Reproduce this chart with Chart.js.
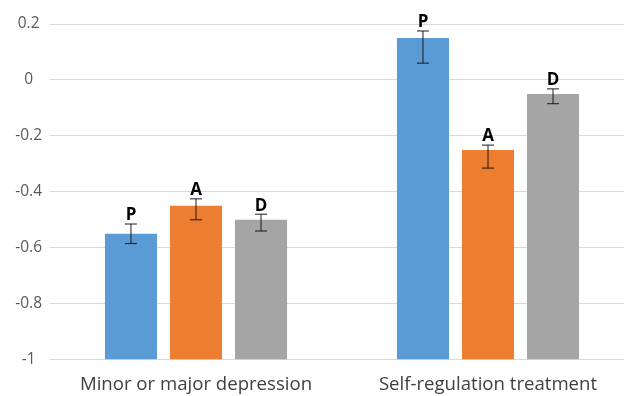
<!DOCTYPE html>
<html>
<head>
<meta charset="utf-8">
<script src="https://cdn.jsdelivr.net/npm/chart.js@4"></script>
<style>
  html, body { margin: 0; padding: 0; background: #fff; overflow: hidden; }
  .chart-container { width: 636px; height: 410px; }
</style>
</head>
<body>
<div class="chart-container">
  <canvas id="chart"></canvas>
</div>
<script>
// categories and series
const categories = ['Minor or major depression', 'Self-regulation treatment'];
const seriesNames = ['P', 'A', 'D'];
const colors = ['#5B9BD5', '#ED7D31', '#A5A5A5'];

const valuesP = [-0.55, 0.15];
const valuesA = [-0.45, -0.25];
const valuesD = [-0.50, -0.05];

// error bar ends (low, high)
const lowP = [-0.585, 0.06];
const highP = [-0.515, 0.175];
const lowA = [-0.50, -0.315];
const highA = [-0.425, -0.233];
const lowD = [-0.54, -0.085];
const highD = [-0.48, -0.032];

const yTicks = [0.2, 0, -0.2, -0.4, -0.6, -0.8, -1];

const values = [valuesP, valuesA, valuesD];
const lows = [lowP, lowA, lowD];
const highs = [highP, highA, highD];

const errorBars = {
  id: 'errorBars',
  afterDatasetsDraw(chart) {
    const ctx = chart.ctx;
    const y = chart.scales.y;
    chart.data.datasets.forEach((ds, i) => {
      const meta = chart.getDatasetMeta(i);
      meta.data.forEach((bar, j) => {
        const x = bar.x;
        const yTop = y.getPixelForValue(highs[i][j]);
        const yBot = y.getPixelForValue(lows[i][j]);
        ctx.save();
        ctx.strokeStyle = '#1a1a1a';
        ctx.lineWidth = 1;
        ctx.beginPath();
        ctx.moveTo(x, yTop); ctx.lineTo(x, yBot);
        ctx.moveTo(x - 6, yTop); ctx.lineTo(x + 6, yTop);
        ctx.moveTo(x - 6, yBot); ctx.lineTo(x + 6, yBot);
        ctx.stroke();
        // series letter above the error bar
        ctx.fillStyle = '#000';
        ctx.font = 'bold 17px "Open Sans", sans-serif';
        ctx.textAlign = 'center';
        ctx.textBaseline = 'bottom';
        ctx.fillText(seriesNames[i], x, yTop);
        ctx.restore();
      });
    });
  }
};

new Chart(document.getElementById('chart'), {
  type: 'bar',
  data: {
    labels: categories,
    datasets: seriesNames.map((name, i) => ({
      label: name,
      data: values[i],
      base: -1,
      backgroundColor: colors[i],
      borderWidth: 0,
      categoryPercentage: 0.668,
      barPercentage: 0.8,
    })),
  },
  options: {
    responsive: true,
    maintainAspectRatio: false,
    animation: false,
    layout: { padding: { top: 24, right: 2, left: 0, bottom: 0 } },
    plugins: {
      legend: { display: false },
      tooltip: { enabled: false },
    },
    scales: {
      x: {
        grid: { display: false, drawTicks: false },
        border: { display: false },
        ticks: {
          color: '#404040',
          font: { family: '"Open Sans", sans-serif', size: 18.6 },
          padding: 14,
        },
      },
      y: {
        min: -1,
        max: 0.2,
        afterBuildTicks: (scale) => { scale.ticks = yTicks.map(v => ({ value: v })); },
        afterFit: (scale) => { scale.width = 50; },
        grid: { color: '#d9d9d9', drawTicks: false },
        border: { display: false },
        ticks: {
          color: '#595959',
          font: { family: '"Open Sans", sans-serif', size: 15.5 },
          crossAlign: 'center',
          padding: 8,
          callback: (v) => String(Math.round(v * 10) / 10),
        },
      },
    },
  },
  plugins: [errorBars],
});
</script>
</body>
</html>
